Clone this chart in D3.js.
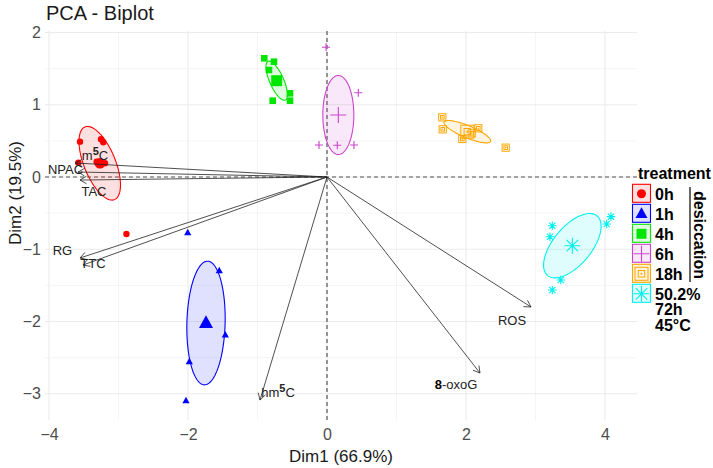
<!DOCTYPE html>
<html><head><meta charset="utf-8">
<script src="https://cdn.jsdelivr.net/npm/d3@7"></script>
<style>
body{margin:0;background:#fff}
svg{display:block}
text{font-family:"Liberation Sans",Arial,Helvetica,sans-serif}
</style>
</head><body>
<svg id="chart" width="713" height="468"></svg>
<script>
// ---------------- DATA ----------------
const groups = ["0h","1h","4h","6h","18h","50.2%"];
const groupLabels = [["0h"],["1h"],["4h"],["6h"],["18h"],["50.2%","72h","45°C"]];
const groupShapes = ["circle","triangle","square","plus","squarebox","asterisk"];
const groupColors = ["#FF0000","#0000FF","#00E600","#CC44CC","#FFA500","#00F0F0"];

// individual observations (Dim1, Dim2)
const ptGroup = ["0h","0h","0h","0h","0h","0h","0h","0h",
                 "1h","1h","1h","1h","1h",
                 "4h","4h","4h","4h","4h","4h",
                 "6h","6h","6h","6h","6h",
                 "18h","18h","18h","18h","18h","18h",
                 "50.2%","50.2%","50.2%","50.2%","50.2%","50.2%"];
const ptX = [-3.554,-3.252,-3.219,-3.578,-3.314,-3.194,-3.252,-2.886,
             -2.004,-1.550,-1.463,-1.981,-2.029,
             -0.902,-0.763,-0.835,-0.532,-0.532,-0.781,
             -0.014,0.450,-0.115,0.148,0.388,
             1.659,1.665,2.177,2.082,1.947,2.571,
             3.242,3.209,4.024,4.086,3.363,3.242];
const ptY = [0.489,0.522,0.480,0.198,0.212,0.190,0.166,-0.789,
             -0.771,-1.297,-2.187,-2.556,-3.096,
             1.643,1.596,1.481,1.158,1.056,1.056,
             1.795,1.167,0.443,0.439,0.443,
             0.826,0.660,0.674,0.605,0.526,0.406,
             -0.674,-0.826,-0.651,-0.549,-1.426,-1.564];

// group barycentres
const meanX = [-3.27,-1.741,-0.724,0.163,2.019,3.530];
const meanY = [0.19,-2.021,1.333,0.858,0.627,-0.951];

// confidence ellipses (semi-axes in data units, angle in degrees)
const ellA = [0.546,0.856,0.295,0.547,0.361,0.545];
const ellB = [0.225,0.275,0.100,0.223,0.084,0.270];
const ellAngle = [-66.8,88.4,115,90,-21.8,48.5];

// variables (arrows)
const varNames = ["m5C","NPAC","TAC","RG","TTC","hm5C","8-oxoG","ROS"];
const varX = [-3.626,-3.583,-3.554,-3.554,-3.511,-0.964,2.201,2.935];
const varY = [0.194,0.069,-0.042,-1.121,-1.218,-3.087,-2.713,-1.799];
const labX = [-3.338,-3.763,-3.353,-3.806,-3.367,-0.705,1.856,2.662];
const labY = [0.30,0.097,-0.207,-1.02,-1.20,-2.97,-2.86,-1.99];

const xTicks = [-4,-2,0,2,4];
const yTicks = [-3,-2,-1,0,1,2];

// ---------------- LAYOUT ----------------
const svg = d3.select("#chart");
const P = {left:45, right:637, top:31, bottom:420};
const x = d3.scaleLinear().domain([-4,4]).range([49,605]);
const y = d3.scaleLinear().domain([-3,2]).range([393.75,32.5]);
const xMin = x.invert(P.left), xMax = x.invert(P.right);
const yMin = y.invert(P.bottom), yMax = y.invert(P.top);

const color = d3.scaleOrdinal().domain(groups).range(groupColors);
const shapeOf = d3.scaleOrdinal().domain(groups).range(groupShapes);

// grid
const grid = svg.append("g");
d3.range(Math.ceil(xMin), Math.floor(xMax)+0.001, 1).forEach(v=>{
  const major = Math.abs(v % 2) < 1e-9;
  grid.append("line").attr("x1",x(v)).attr("x2",x(v)).attr("y1",P.top).attr("y2",P.bottom)
    .attr("stroke", major ? "#ebebeb" : "#f2f2f2").attr("stroke-width", major ? 1.1 : 0.8);
});
d3.range(Math.ceil(yMin*2)/2, yMax+0.001, 0.5).forEach(v=>{
  const major = Math.abs(v - Math.round(v)) < 1e-9;
  grid.append("line").attr("y1",y(v)).attr("y2",y(v)).attr("x1",P.left).attr("x2",P.right)
    .attr("stroke", major ? "#ebebeb" : "#f2f2f2").attr("stroke-width", major ? 1.1 : 0.8);
});

// axes (tick labels only)
const xAxis = d3.axisBottom(x).tickValues(xTicks).tickSize(0).tickPadding(0)
  .tickFormat(d => d < 0 ? "\u2212" + Math.abs(d) : String(d));
const gx = svg.append("g").attr("transform",`translate(0,${P.bottom+9})`).call(xAxis);
gx.select(".domain").remove();
gx.selectAll("text").attr("font-size",16).attr("fill","#4d4d4d").attr("font-family","Liberation Sans, Arial, sans-serif");

const yAxis = d3.axisLeft(y).tickValues(yTicks).tickSize(0).tickPadding(0)
  .tickFormat(d => d < 0 ? "\u2212" + Math.abs(d) : String(d));
const gy = svg.append("g").attr("transform",`translate(${P.left-4},0)`).call(yAxis);
gy.select(".domain").remove();
gy.selectAll("text").attr("font-size",16).attr("fill","#4d4d4d").attr("font-family","Liberation Sans, Arial, sans-serif");

// axis titles & title
svg.append("text").attr("x",(P.left+P.right)/2).attr("y",462).attr("text-anchor","middle")
  .attr("font-size",17).attr("fill","#1a1a1a").text("Dim1 (66.9%)");
svg.append("text").attr("transform","translate(21,193) rotate(-90)").attr("text-anchor","middle")
  .attr("font-size",17).attr("fill","#1a1a1a").text("Dim2 (19.5%)");
svg.append("text").attr("x",46).attr("y",20).attr("font-size",20).attr("fill","#1a1a1a").text("PCA - Biplot");

// reference dashed lines
svg.append("line").attr("x1",P.left).attr("x2",P.right).attr("y1",y(0)).attr("y2",y(0))
  .attr("stroke","#555").attr("stroke-width",1.2).attr("stroke-dasharray","4,3");
svg.append("line").attr("x1",x(0)).attr("x2",x(0)).attr("y1",P.top).attr("y2",P.bottom)
  .attr("stroke","#555").attr("stroke-width",1.2).attr("stroke-dasharray","4,3");

// ellipses
const ellG = svg.append("g");
groups.forEach((g,i)=>{
  const th = ellAngle[i]*Math.PI/180;
  const pts = d3.range(0, 2*Math.PI+0.001, Math.PI/60).map(t=>{
    const ex = meanX[i] + ellA[i]*Math.cos(t)*Math.cos(th) - ellB[i]*Math.sin(t)*Math.sin(th);
    const ey = meanY[i] + ellA[i]*Math.cos(t)*Math.sin(th) + ellB[i]*Math.sin(t)*Math.cos(th);
    return [x(ex), y(ey)];
  });
  ellG.append("path").attr("d", d3.line().curve(d3.curveLinearClosed)(pts))
    .attr("fill", color(g)).attr("fill-opacity",0.12)
    .attr("stroke", color(g)).attr("stroke-width",1.1);
});

// shape drawer
function drawShape(sel, shape, cx, cy, s, col){
  const g = sel.append("g").attr("transform",`translate(${cx},${cy})`);
  if(shape==="circle"){
    g.append("circle").attr("r",s).attr("fill",col);
  } else if(shape==="triangle"){
    g.append("path").attr("d",`M0,${-s*1.1}L${s},${s*0.7}L${-s},${s*0.7}Z`).attr("fill",col);
  } else if(shape==="square"){
    g.append("rect").attr("x",-s).attr("y",-s).attr("width",2*s).attr("height",2*s).attr("fill",col);
  } else if(shape==="plus"){
    g.append("path").attr("d",`M${-s},0H${s}M0,${-s}V${s}`).attr("stroke",col).attr("stroke-width",1.1).attr("fill","none");
  } else if(shape==="squarebox"){
    g.append("rect").attr("x",-s).attr("y",-s).attr("width",2*s).attr("height",2*s)
      .attr("fill","none").attr("stroke",col).attr("stroke-width",1);
    g.append("rect").attr("x",-s*0.5).attr("y",-s*0.5).attr("width",s).attr("height",s)
      .attr("fill","none").attr("stroke",col).attr("stroke-width",1);
    g.append("circle").attr("r",Math.max(0.8,s*0.15)).attr("fill",col);
  } else if(shape==="asterisk"){
    const d = s*0.72;
    g.append("path").attr("d",`M${-s},0H${s}M0,${-s}V${s}M${-d},${-d}L${d},${d}M${-d},${d}L${d},${-d}`)
      .attr("stroke",col).attr("stroke-width",1.1).attr("fill","none");
  }
}
const smallSize = {circle:3.2, triangle:3.6, square:3.3, plus:4, squarebox:3.6, asterisk:4.3};
const bigSize   = {circle:5.2, triangle:7,   square:5.5, plus:8, squarebox:6.5, asterisk:8};

// points
const ptG = svg.append("g");
ptX.forEach((v,i)=>{
  const g = ptGroup[i];
  drawShape(ptG, shapeOf(g), x(v), y(ptY[i]), smallSize[shapeOf(g)], color(g));
});
// means
groups.forEach((g,i)=>{
  drawShape(ptG, shapeOf(g), x(meanX[i]), y(meanY[i]), bigSize[shapeOf(g)], color(g));
});

// arrows
const arG = svg.append("g");
varNames.forEach((n,i)=>{
  const x0 = x(0), y0 = y(0), x1 = x(varX[i]), y1 = y(varY[i]);
  arG.append("line").attr("x1",x0).attr("y1",y0).attr("x2",x1).attr("y2",y1)
    .attr("stroke","#222").attr("stroke-width",0.8);
  const ang = Math.atan2(y1-y0, x1-x0), L = 7.5, a = Math.PI/6;
  const p1 = [x1 - L*Math.cos(ang-a), y1 - L*Math.sin(ang-a)];
  const p2 = [x1 - L*Math.cos(ang+a), y1 - L*Math.sin(ang+a)];
  arG.append("path").attr("d",`M${p1[0]},${p1[1]}L${x1},${y1}L${p2[0]},${p2[1]}`)
    .attr("fill","none").attr("stroke","#222").attr("stroke-width",0.8);
});
// variable labels
const lbG = svg.append("g");
varNames.forEach((n,i)=>{
  const t = lbG.append("text").attr("x",x(labX[i])).attr("y",y(labY[i]))
    .attr("text-anchor","middle").attr("dominant-baseline","central")
    .attr("font-size",13).attr("fill","#222");
  if(n.endsWith("5C")){
    t.append("tspan").text(n.slice(0,-2));
    t.append("tspan").attr("dy",-4).attr("font-size",11).attr("font-weight","bold").text("5");
    t.append("tspan").attr("dy",4).text("C");
  } else if(n.startsWith("8-")){
    t.append("tspan").attr("font-weight","bold").attr("fill","#000").text("8");
    t.append("tspan").text(n.slice(1));
  } else {
    t.text(n);
  }
});

// legend
const lg = svg.append("g");
lg.append("text").attr("x",638).attr("y",179).attr("font-size",16).attr("font-weight","bold")
  .attr("fill","#000").text("treatment");
groups.forEach((g,i)=>{
  const cy = 193.8 + i*20;
  lg.append("rect").attr("x",632.5).attr("y",cy-9.5).attr("width",18).attr("height",18)
    .attr("fill",color(g)).attr("fill-opacity",0.12).attr("stroke",color(g)).attr("stroke-width",1.1);
  const ks = {circle:4.5, triangle:6, square:5, plus:8, squarebox:6.5, asterisk:8}[shapeOf(g)];
  drawShape(lg, shapeOf(g), 641.5, cy, ks, color(g));
  const tx = lg.append("text").attr("x",655).attr("y",cy+6).attr("font-size",16)
    .attr("font-weight","bold").attr("fill","#000");
  groupLabels[i].forEach((s,j)=>{
    tx.append("tspan").attr("x",655).attr("dy", j===0 ? 0 : 15.5).text(s);
  });
});
lg.append("line").attr("x1",690).attr("x2",690).attr("y1",187).attr("y2",282)
  .attr("stroke","#000").attr("stroke-width",1.2);
lg.append("text").attr("transform","translate(694,235) rotate(90)").attr("text-anchor","middle")
  .attr("font-size",16).attr("font-weight","bold").attr("fill","#000").text("desiccation");
</script>
</body></html>
